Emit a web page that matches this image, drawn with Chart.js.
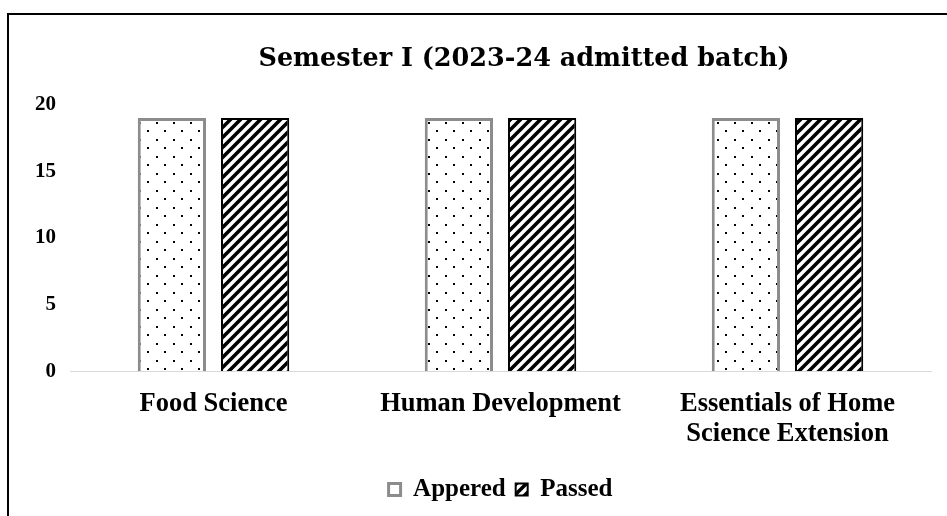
<!DOCTYPE html>
<html>
<head>
<meta charset="utf-8">
<script src="https://cdn.jsdelivr.net/npm/chart.js@4/dist/chart.umd.min.js"></script>
<style>
  body { margin: 0; background: #fff; }
  #wrap { position: relative; width: 947px; height: 516px; overflow: hidden; }
  #frame { position: absolute; left: 7px; top: 13px; right: 0; bottom: 0;
           border-top: 2px solid #000; border-left: 2px solid #000; pointer-events: none; }
</style>
</head>
<body>
<div id="wrap">
  <canvas id="myChart" width="1027" height="516"></canvas>
  <div id="frame"></div>
</div>
<script>
var courses = ['Food Science', 'Human Development', ['Essentials of Home', 'Science Extension']];
var appearedValues = [19, 19, 19];
var passedValues = [19, 19, 19];
var yTicks = [0, 5, 10, 15, 20];

// dotted fill for "Appered"
function dotPattern() {
    var c = document.createElement('canvas');
    c.width = 17; c.height = 17;
    var x = c.getContext('2d');
    x.fillStyle = '#fff';
    x.fillRect(0, 0, 17, 17);
    x.fillStyle = '#000';
    x.fillRect(3, 3, 2, 2);
    x.fillRect(11, 11, 2, 2);
    return x.createPattern(c, 'repeat');
}

// diagonal stripes for "Passed"
function stripePattern() {
    var s = 10;
    var c = document.createElement('canvas');
    c.width = s; c.height = s;
    var x = c.getContext('2d');
    x.fillStyle = '#fff';
    x.fillRect(0, 0, s, s);
    x.strokeStyle = '#000';
    x.lineWidth = 3.6;
    x.beginPath();
    for (var k = 0; k <= 2; k++) {
        x.moveTo(k * s - s - 2, s + 2);
        x.lineTo(k * s + 2, -2);
    }
    x.stroke();
    return x.createPattern(c, 'repeat');
}

var serif = "'Liberation Serif', 'Times New Roman', serif";

new Chart("myChart", {
    type: "bar",
    data: {
        labels: courses,
        datasets: [{
            label: 'Appered',
            data: appearedValues,
            backgroundColor: dotPattern(),
            borderColor: '#8c8c8c',
            borderWidth: 3
        }, {
            label: 'Passed',
            data: passedValues,
            backgroundColor: stripePattern(),
            borderColor: '#000',
            borderWidth: 2
        }]
    },
    options: {
        responsive: false,
        animation: false,
        layout: { padding: { left: 21, right: 0, top: 0, bottom: 4 } },
        datasets: { bar: { categoryPercentage: 0.58, barPercentage: 0.82 } },
        plugins: {
            title: {
                display: true,
                text: 'Semester I (2023-24 admitted batch)',
                color: '#000',
                font: { family: "'DejaVu Serif', serif", size: 25.5, weight: 'bold' },
                padding: { top: 44, bottom: 30 }
            },
            legend: {
                position: 'bottom',
                fullSize: false,
                labels: {
                    color: '#000',
                    boxWidth: 12, boxHeight: 12,
                    padding: 10,
                    font: { family: serif, size: 25, weight: 'bold' }
                }
            },
            tooltip: { enabled: false }
        },
        scales: {
            x: {
                grid: { display: false, drawTicks: false },
                border: { color: '#d9d9d9', width: 1 },
                ticks: { color: '#000', padding: 18, font: { family: serif, size: 26.5, weight: 'bold', lineHeight: 1.13 } }
            },
            y: {
                min: 0, max: 20,
                afterBuildTicks: function (axis) { axis.ticks = yTicks.map(function (v) { return { value: v }; }); },
                grid: { display: false, drawTicks: false },
                border: { display: false },
                ticks: { color: '#000', padding: 14, font: { family: serif, size: 21, weight: 'bold' } }
            },
            // empty space on the right, like the original chart frame
            yRight: {
                position: 'right',
                grid: { display: false, drawTicks: false },
                border: { display: false },
                ticks: { display: false },
                afterFit: function (axis) { axis.width = 96; }
            }
        }
    }
});
</script>
</body>
</html>
